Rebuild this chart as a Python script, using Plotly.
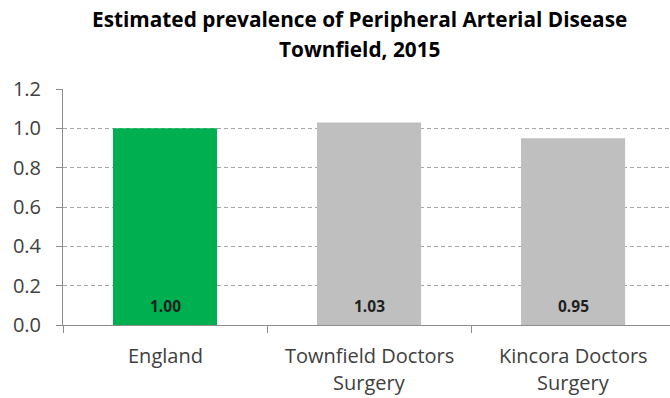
import plotly.graph_objects as go

# Estimated prevalence of Peripheral Arterial Disease, Townfield 2015
categories = ["England", "Townfield Doctors Surgery", "Kincora Doctors Surgery"]
label_line1 = ["England", "Townfield Doctors", "Kincora Doctors"]
label_line2 = ["", "Surgery", "Surgery"]
prevalence = [1.00, 1.03, 0.95]
bar_colors = ["#00B050", "#BFBFBF", "#BFBFBF"]
y_ticks = [0.0, 0.2, 0.4, 0.6, 0.8, 1.0, 1.2]
title_lines = ["Estimated prevalence of Peripheral Arterial Disease", "Townfield, 2015"]

FONT = "Open Sans"
TEXT = "#404040"

fig = go.Figure()
fig.add_trace(go.Bar(
    x=categories,
    y=prevalence,
    marker=dict(color=bar_colors, line=dict(width=0)),
    width=0.51,
    hoverinfo="skip",
))

annotations = []
# value labels sitting at the foot of each bar
for cat, v in zip(categories, prevalence):
    annotations.append(dict(
        x=cat, y=0, xref="x", yref="y", text=f"<b>{v:.2f}</b>",
        showarrow=False, yanchor="middle", yshift=19,
        font=dict(family=FONT, size=15.5, color="#1F1F1F"),
    ))
# two-line category labels under the axis
for cat, l1, l2 in zip(categories, label_line1, label_line2):
    annotations.append(dict(
        x=cat, y=0, xref="x", yref="y", text=l1, showarrow=False,
        yanchor="middle", yshift=-30, font=dict(family=FONT, size=20, color=TEXT),
    ))
    if l2:
        annotations.append(dict(
            x=cat, y=0, xref="x", yref="y", text=l2, showarrow=False,
            yanchor="middle", yshift=-57, font=dict(family=FONT, size=20, color=TEXT),
        ))
# chart title, two lines
for line, ypos in zip(title_lines, [1.297, 1.170]):
    annotations.append(dict(
        x=0.4877, y=ypos, xref="paper", yref="paper", text=f"<b>{line}</b>",
        showarrow=False, xanchor="center", yanchor="middle",
        font=dict(family=FONT, size=20.8, color="#000000"),
    ))

fig.update_layout(
    width=670,
    height=398,
    margin=dict(l=63, r=0, t=89, b=73),
    paper_bgcolor="white",
    plot_bgcolor="white",
    showlegend=False,
    xaxis=dict(
        type="category",
        range=[-0.5, 2.475],
        showticklabels=False,
        ticks="outside", tickson="boundaries", ticklen=7,
        tickcolor="#8C8C8C", tickwidth=1,
        showline=True, linecolor="#8C8C8C", linewidth=1,
        showgrid=False, zeroline=False,
    ),
    yaxis=dict(
        range=[0, 1.2],
        tickvals=y_ticks,
        ticktext=[f"{t:.1f}" for t in y_ticks],
        ticks="outside", ticklen=6, tickcolor="#8C8C8C", tickwidth=1,
        ticklabelstandoff=11,
        showline=True, linecolor="#8C8C8C", linewidth=1,
        showgrid=True, gridcolor="#A6A6A6", griddash="4px,3px", gridwidth=1,
        zeroline=False,
        tickfont=dict(family=FONT, size=20, color=TEXT),
    ),
    annotations=annotations,
)

fig.write_html("out.html")
